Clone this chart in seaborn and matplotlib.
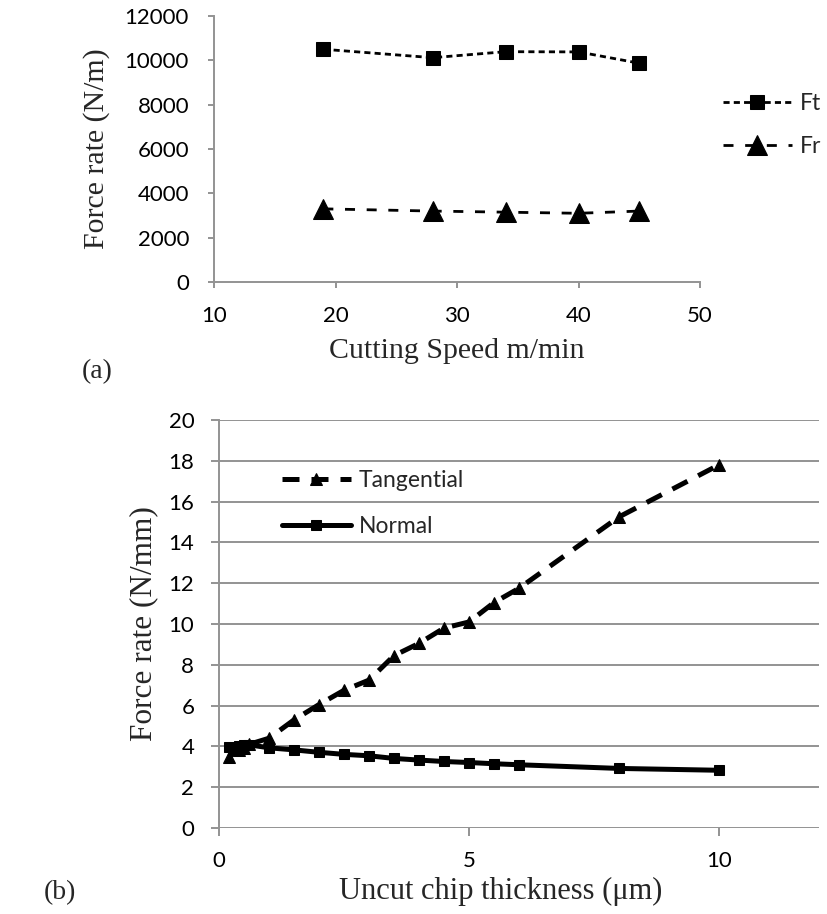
import matplotlib
matplotlib.use("Agg")
import matplotlib.pyplot as plt
import seaborn as sns

# ---- data panel (a) ----
speed = [19, 28, 34, 40, 45]
ft_vals = [10500, 10120, 10390, 10380, 9870]
fr_vals = [3300, 3200, 3150, 3100, 3200]

# ---- data panel (b) ----
thick = [0.2, 0.4, 0.5, 0.6, 1.0, 1.5, 2.0, 2.5, 3.0, 3.5, 4.0, 4.5, 5.0, 5.5, 6.0, 8.0, 10.0]
tangential = [3.5, 3.8, 3.9, 4.1, 4.4, 5.3, 6.05, 6.75, 7.25, 8.45, 9.05, 9.8, 10.1, 11.05, 11.75, 15.25, 17.8]
normal = [3.95, 4.02, 4.05, 4.08, 3.93, 3.83, 3.71, 3.61, 3.54, 3.41, 3.33, 3.26, 3.21, 3.15, 3.1, 2.92, 2.83]

sns.set_theme(style="white")
plt.rcParams['font.family'] = ['Lato', 'DejaVu Sans']

W, H = 827, 914
fig = plt.figure(figsize=(W / 100, H / 100), dpi=100)
fig.patch.set_facecolor("white")

grey = "#939393"
serif = "Liberation Serif"


def box(l, r, t, b):
    return [l / W, 1 - b / H, (r - l) / W, (b - t) / H]


# ---------------- Panel (a) ----------------
L, R, T, B = 214, 700, 16, 282
axa = fig.add_axes(box(L, R, T, B))
sns.lineplot(x=speed, y=ft_vals, ax=axa, color="black", marker="s", markersize=9.5,
             linewidth=2.0, markeredgecolor="black", label="Ft")
sns.lineplot(x=speed, y=fr_vals, ax=axa, color="black", marker="^", markersize=14,
             linewidth=2.0, markeredgecolor="black", label="Fr")
axa.lines[0].set_dashes([2.2, 1.5])
axa.lines[1].set_dashes([3.6, 4.2])
axa.set_xlim(10, 50)
axa.set_ylim(0, 12000)
axa.set_xticks([10, 20, 30, 40, 50])
axa.set_yticks(range(0, 12001, 2000))
for s in ["top", "right"]:
    axa.spines[s].set_visible(False)
for s in ["left", "bottom"]:
    axa.spines[s].set_color(grey)
    axa.spines[s].set_linewidth(1.4)
axa.tick_params(axis="both", which="major", direction="out", length=4.5, width=1.4,
                color=grey, labelsize=16, labelcolor="black")
axa.tick_params(axis="y", pad=13.5)
axa.tick_params(axis="x", pad=12.5)
axa.tick_params(left=True, bottom=True)
axa.set_xlabel("Cutting Speed m/min", fontfamily=serif, fontsize=21.5)
axa.xaxis.label.set_va("center")
axa.xaxis.set_label_coords(0.5, (B - 351) / (B - T))
axa.set_ylabel("Force rate (N/m)", fontfamily=serif, fontsize=21.5)
axa.yaxis.label.set_va("center")
axa.yaxis.set_label_coords((97 - L) / (R - L), 0.5)
axa.legend(loc="upper left", bbox_to_anchor=(723 / W, 1 - 93 / H),
           bbox_transform=fig.transFigure, frameon=False, fontsize=16.5,
           borderpad=0, borderaxespad=0, handlelength=3.0, handletextpad=0.35,
           labelspacing=0.95)
fig.text(97 / W, 1 - 372 / H, "(a)", fontfamily=serif, fontsize=20,
         ha="center", va="center")

# ---------------- Panel (b) ----------------
L, R, T, B = 219, 819, 420, 828
axb = fig.add_axes(box(L, R, T, B))
sns.lineplot(x=thick, y=normal, ax=axb, color="black", marker="s", markersize=7.2,
             linewidth=3.6, markeredgecolor="black", label="Normal")
sns.lineplot(x=thick, y=tangential, ax=axb, color="black", marker="^", markersize=8.5,
             linewidth=3.6, markeredgecolor="black", label="Tangential")
axb.lines[1].set_dashes([3.4, 2.4])
axb.set_xlim(0, 12)
axb.set_ylim(0, 20)
axb.set_xticks([0, 5, 10])
axb.set_yticks(range(0, 21, 2))
axb.grid(axis="y", color=grey, linewidth=1.4)
axb.grid(axis="x", visible=False)
axb.set_axisbelow(True)
for s in ["top", "right", "bottom"]:
    axb.spines[s].set_visible(False)
axb.spines["left"].set_color(grey)
axb.spines["left"].set_linewidth(1.4)
axb.tick_params(axis="both", which="major", direction="out", length=5.8, width=1.4,
                color=grey, labelsize=16, labelcolor="black")
axb.tick_params(axis="y", pad=12)
axb.tick_params(axis="x", pad=11)
axb.tick_params(left=True, bottom=True)
axb.set_xlabel("Uncut chip thickness (μm)", fontfamily=serif, fontsize=22)
axb.xaxis.label.set_va("center")
axb.xaxis.set_label_coords((501 - L) / (R - L), (B - 891) / (B - T))
axb.set_ylabel("Force rate (N/mm)", fontfamily=serif, fontsize=22.5)
axb.yaxis.label.set_va("center")
axb.yaxis.set_label_coords((143.5 - L) / (R - L), 0.5)
h, l = axb.get_legend_handles_labels()
axb.legend([h[1], h[0]], [l[1], l[0]], loc="upper left",
           bbox_to_anchor=(282 / W, 1 - 470 / H), bbox_transform=fig.transFigure,
           frameon=False, fontsize=16.5, borderpad=0, borderaxespad=0,
           handlelength=3.0, handletextpad=0.35, labelspacing=1.1)
fig.text(60 / W, 1 - 893 / H, "(b)", fontfamily=serif, fontsize=20,
         ha="center", va="center")

fig.savefig("out.png", dpi=100, facecolor="white")
